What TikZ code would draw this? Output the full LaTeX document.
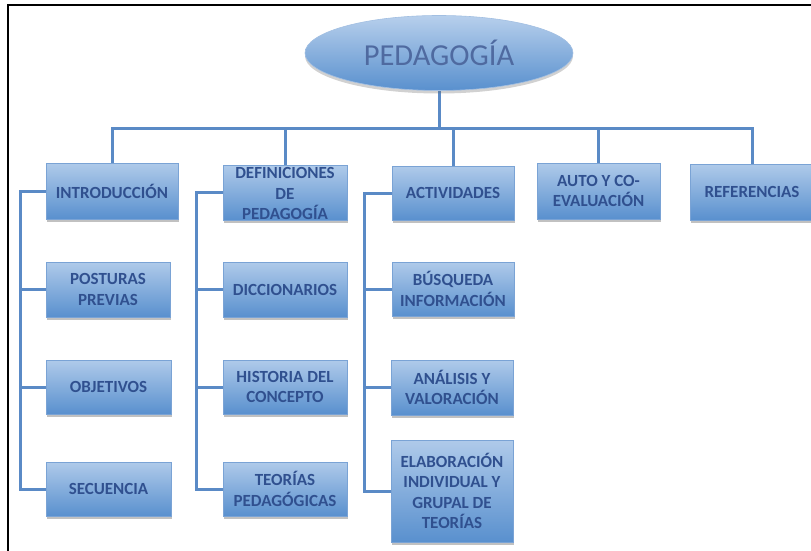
\documentclass[tikz,border=0pt]{standalone}
\usepackage{fontspec}
\setmainfont{Carlito}
\usetikzlibrary{shapes.geometric,shadows,backgrounds}
\definecolor{linkblue}{HTML}{5A8AC6}
\definecolor{boxtop}{HTML}{AFCAEA}
\definecolor{boxbot}{HTML}{5990CE}
\definecolor{boxedge}{HTML}{7AA3D5}
\definecolor{labelblue}{HTML}{30508F}
\tikzset{
  link/.style={draw=linkblue, line width=3pt},
  boxfont/.style={font=\bfseries\fontsize{17}{20.5}\selectfont, text=labelblue, align=center},
  topicbox/.style={rectangle, draw=boxedge, line width=0.8pt,
    top color=boxtop, bottom color=boxbot, inner sep=2pt, boxfont,
    drop shadow={shadow xshift=1pt, shadow yshift=-2.5pt, opacity=0.35, fill=black!70}},
  rootshape/.style={ellipse, draw=boxedge!70, line width=0.6pt,
    top color=boxtop!90, bottom color=boxbot, inner sep=0pt,
    minimum width=268pt, minimum height=75pt, text=labelblue!85!white,
    font=\fontsize{30.5}{33}\selectfont,
    drop shadow={shadow xshift=0pt, shadow yshift=-3pt, opacity=0.3, fill=black!60}}
}
\begin{document}
\begin{tikzpicture}[x=1pt, y=-1pt]
\useasboundingbox (0,0) rectangle (811,551);
% outer frame (left and top edges)
\draw[line width=2.5pt, line cap=rect] (8,551) -- (8,5) -- (811,5);

% root
\node[rootshape] (root) at (439,53) {PEDAGOGÍA};

% first row
\node[topicbox, minimum width=132pt, minimum height=56pt] (intro) at (112,191) {INTRODUCCIÓN};
\node[topicbox, minimum width=124pt, minimum height=55pt] (defi) at (285,192.5) {};
\node[boxfont] (defitext) at (285,193.5) {DEFINICIONES\\DE\\PEDAGOGÍA};
\node[topicbox, minimum width=122pt, minimum height=54pt] (acti) at (453,193) {ACTIVIDADES};
\node[topicbox, minimum width=123pt, minimum height=56pt] (auto) at (598.5,191) {AUTO Y CO-\\EVALUACIÓN};
\node[topicbox, minimum width=124pt, minimum height=56pt] (refe) at (752,192) {REFERENCIAS};

% second row
\node[topicbox, minimum width=124pt, minimum height=55pt] (post) at (108,289.5) {POSTURAS\\PREVIAS};
\node[topicbox, minimum width=124pt, minimum height=55pt] (dicc) at (285,289.5) {DICCIONARIOS};
\node[topicbox, minimum width=122pt, minimum height=54pt] (busq) at (453,289) {BÚSQUEDA\\INFORMACIÓN};

% third row
\node[topicbox, minimum width=125pt, minimum height=54pt] (obje) at (108.5,387) {OBJETIVOS};
\node[topicbox, minimum width=124pt, minimum height=54pt] (hist) at (285,387) {HISTORIA DEL\\CONCEPTO};
\node[topicbox, minimum width=122pt, minimum height=55pt] (anal) at (452,387.5) {ANÁLISIS Y\\VALORACIÓN};

% fourth row
\node[topicbox, minimum width=125pt, minimum height=54pt] (secu) at (108.5,489) {SECUENCIA};
\node[topicbox, minimum width=124pt, minimum height=54pt] (teor) at (285,489) {TEORÍAS\\PEDAGÓGICAS};
\node[topicbox, minimum width=122pt, minimum height=102pt] (elab) at (452,491) {ELABORACIÓN\\INDIVIDUAL Y\\GRUPAL DE\\TEORÍAS};

% top bar and spines
\coordinate (bar) at (439,128);
\coordinate (sa) at (20,0);
\coordinate (sb) at (196,0);
\coordinate (sc) at (364,0);

\begin{scope}[on background layer]
  % trunk and top bar
  \draw[link] (root.south) -- (bar);
  \draw[link] (intro.north) |- (bar) -| (refe.north);
  \draw[link] (defi.north) -- (defi.north |- bar);
  \draw[link] (acti.north) -- (acti.north |- bar);
  \draw[link] (auto.north) -- (auto.north |- bar);
  % first column
  \draw[link] (intro.west) -- (intro.west -| sa) -- (secu.west -| sa) -- (secu.west);
  \draw[link] (post.west) -- (post.west -| sa);
  \draw[link] (obje.west) -- (obje.west -| sa);
  % second column
  \draw[link] (defi.west) -- (defi.west -| sb) -- (teor.west -| sb) -- (teor.west);
  \draw[link] (dicc.west) -- (dicc.west -| sb);
  \draw[link] (hist.west) -- (hist.west -| sb);
  % third column
  \draw[link] (acti.west) -- (acti.west -| sc) -- (elab.west -| sc) -- (elab.west);
  \draw[link] (busq.west) -- (busq.west -| sc);
  \draw[link] (anal.west) -- (anal.west -| sc);
\end{scope}
\end{tikzpicture}
\end{document}
